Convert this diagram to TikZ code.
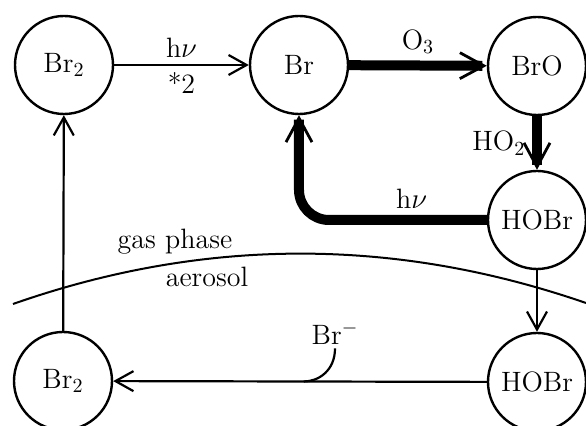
\documentclass[tikz,border=0pt]{standalone}
\usepackage{tikz}
\usetikzlibrary{arrows.meta,positioning,calc}
\tikzset{
  species/.style={circle,draw,line width=1.2pt,minimum size=49pt,inner sep=0pt},
  flux/.style={line width=1.1pt,-{Straight Barb[length=9pt,width=10pt,line width=1.1pt]}},
  bigflux/.style={line width=5pt,-{Straight Barb[length=12pt,width=13pt,line width=1.4pt]}},
}
\begin{document}
\begin{tikzpicture}[x=0.5pt,y=-0.5pt,font=\fontsize{14}{17}\selectfont]
\useasboundingbox (0,0) rectangle (586,426);
% gas phase
\node[species] (br2g) at (64,65) {Br$_2$};
\node[species] (br) at (299,65) {Br};
\node[species] (bro) at (537,66) {BrO};
\node[species] (hobrg) at (537,220) {HOBr};
% aerosol
\node[species] (br2a) at (63,381) {Br$_2$};
\node[species] (hobra) at (537,382) {HOBr};
% reactions
\draw[flux] (br2g) -- node[above] {h$\nu$} node[below] {*2} (br);
\draw[bigflux] (br) -- node[above] {O$_3$} (bro);
\draw[bigflux] (bro) -- node[left] {HO$_2$} (hobrg);
\draw[bigflux,rounded corners=15pt] (hobrg.west) -| node[above,pos=0.2] {h$\nu$} (br.south);
\draw[flux] (hobrg) -- (hobra);
\draw[flux] (hobra) -- coordinate[pos=0.49] (brjoin) (br2a);
\draw[flux] (br2a) -- (br2g);
\node[inner sep=2pt] (brminus) at (335,333) {Br$^-$};
\draw[line width=1.1pt] (brminus.south) .. controls +(0,22) and +(15,0) .. (brjoin);
% phase boundary
\draw[line width=1pt] (13,304) .. controls (204,237) and (395,237) .. (586,303);
\node (gas) at (175,242) {gas phase};
\node (aer) at (207,277) {aerosol};
\end{tikzpicture}
\end{document}
